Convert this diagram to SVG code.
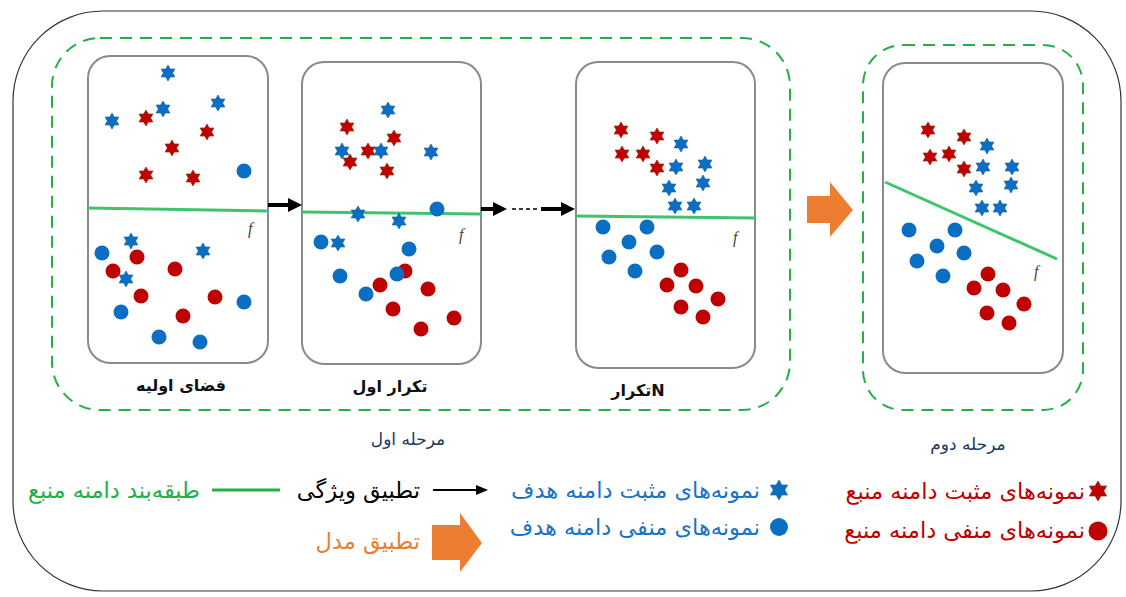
<svg xmlns="http://www.w3.org/2000/svg" xmlns:xlink="http://www.w3.org/1999/xlink" width="1126" height="597" viewBox="0 0 1126 597">
<style>
.bs{fill:#0a6fc2;stroke:#1d5a9c;stroke-width:0.6}
.rs{fill:#c00000;stroke:#93320f;stroke-width:0.7}
.bc{fill:#0a6fc2}
.rc{fill:#c00000}
.panel{fill:#fff;stroke:#8a8a8a;stroke-width:2}
.stage{fill:none;stroke:#22b04b;stroke-width:2;stroke-dasharray:12 8}
.cls{stroke:#3ec46d;stroke-width:3}
.f{font-family:"Liberation Serif",serif;font-style:italic;font-size:16px;fill:#444}
.lbl{font-family:"DejaVu Sans",sans-serif;font-weight:bold;font-size:16px;fill:#111;text-anchor:middle}
.stg{font-family:"DejaVu Sans",sans-serif;font-size:17px;fill:#203864;text-anchor:middle}
.leg{font-family:"DejaVu Sans",sans-serif;font-size:22.5px;direction:rtl;text-anchor:start}
.conn{stroke:#000;stroke-width:4;fill:none}
</style>
<defs>
<path id="hex" d="M0,-8L2.309,-4L6.928,-4L4.619,0L6.928,4L2.309,4L0,8L-2.309,4L-6.928,4L-4.619,0L-6.928,-4L-2.309,-4Z"/>
<path id="hexL" d="M0,-10L2.887,-5L8.66,-5L5.774,0L8.66,5L2.887,5L0,10L-2.887,5L-8.66,5L-5.774,0L-8.66,-5L-2.887,-5Z"/>
<marker id="ah" markerUnits="userSpaceOnUse" markerWidth="14" markerHeight="14" refX="2" refY="7" orient="auto">
<path d="M0,0L14,7L0,14Z" fill="#000"/>
</marker>
<marker id="ahs" markerUnits="userSpaceOnUse" markerWidth="12" markerHeight="10" refX="2" refY="5" orient="auto">
<path d="M0,0L12,5L0,10Z" fill="#000"/>
</marker>
</defs>
<rect width="1126" height="597" fill="#fff"/>
<g id="frame">
<rect x="13" y="11" width="1108" height="580" rx="90" fill="none" stroke="#333" stroke-width="1.2"/>
</g>
<g id="stage1">
<rect class="stage" x="52" y="38" width="738" height="372" rx="48"/>
<text class="stg" x="408" y="445">مرحله اول</text>
</g>
<g id="stage2">
<rect class="stage" x="863" y="45" width="220" height="365" rx="40"/>
<text class="stg" x="968" y="450">مرحله دوم</text>
</g>
<g id="panel1">
<rect class="panel" x="88" y="56" width="180" height="307" rx="22"/>
<line class="cls" x1="88" y1="208" x2="268" y2="211"/>
<text class="f" x="248" y="234">f</text>
<use href="#hex" class="bs" x="168" y="73"/>
<use href="#hex" class="bs" x="163" y="109"/>
<use href="#hex" class="bs" x="218" y="103"/>
<use href="#hex" class="bs" x="112" y="121"/>
<use href="#hex" class="rs" x="146" y="118"/>
<use href="#hex" class="rs" x="207" y="132"/>
<use href="#hex" class="rs" x="172" y="148"/>
<use href="#hex" class="rs" x="146" y="175"/>
<use href="#hex" class="rs" x="193" y="178"/>
<circle class="bc" cx="244" cy="171" r="7.5"/>
<circle class="rc" cx="137" cy="257" r="7.5"/>
<circle class="rc" cx="113" cy="271" r="7.5"/>
<circle class="rc" cx="175" cy="269" r="7.5"/>
<circle class="rc" cx="141" cy="296" r="7.5"/>
<circle class="rc" cx="215" cy="297" r="7.5"/>
<circle class="rc" cx="183" cy="316" r="7.5"/>
<circle class="bc" cx="102" cy="253" r="7.5"/>
<circle class="bc" cx="121" cy="312" r="7.5"/>
<circle class="bc" cx="244" cy="302" r="7.5"/>
<circle class="bc" cx="159" cy="337" r="7.5"/>
<circle class="bc" cx="200" cy="342" r="7.5"/>
<use href="#hex" class="bs" x="131" y="241"/>
<use href="#hex" class="bs" x="203" y="251"/>
<use href="#hex" class="bs" x="126" y="279"/>
<text class="lbl" x="181" y="391">فضای اولیه</text>
</g>
<g id="panel2">
<rect class="panel" x="302" y="62" width="179" height="302" rx="22"/>
<line class="cls" x1="302" y1="212" x2="481" y2="214"/>
<text class="f" x="459" y="240">f</text>
<use href="#hex" class="bs" x="388" y="110"/>
<use href="#hex" class="rs" x="347" y="127"/>
<use href="#hex" class="rs" x="394" y="138"/>
<use href="#hex" class="bs" x="342" y="151"/>
<use href="#hex" class="rs" x="368" y="151"/>
<use href="#hex" class="bs" x="381" y="151"/>
<use href="#hex" class="bs" x="431" y="152"/>
<use href="#hex" class="rs" x="350" y="162"/>
<use href="#hex" class="rs" x="387" y="171"/>
<circle class="bc" cx="437" cy="209" r="7.5"/>
<use href="#hex" class="bs" x="358" y="214"/>
<use href="#hex" class="bs" x="399" y="221"/>
<use href="#hex" class="bs" x="338" y="243"/>
<circle class="bc" cx="321" cy="242" r="7.5"/>
<circle class="bc" cx="409" cy="249" r="7.5"/>
<circle class="rc" cx="405" cy="271" r="7.5"/>
<circle class="bc" cx="397" cy="274" r="7.5"/>
<circle class="bc" cx="340" cy="276" r="7.5"/>
<circle class="rc" cx="380" cy="285" r="7.5"/>
<circle class="bc" cx="366" cy="294" r="7.5"/>
<circle class="rc" cx="428" cy="289" r="7.5"/>
<circle class="rc" cx="393" cy="309" r="7.5"/>
<circle class="rc" cx="454" cy="318" r="7.5"/>
<circle class="rc" cx="421" cy="329" r="7.5"/>
<text class="lbl" x="390" y="392">تکرار اول</text>
</g>
<g id="panel3">
<rect class="panel" x="576" y="62" width="179" height="306" rx="22"/>
<line class="cls" x1="576" y1="216" x2="755" y2="218"/>
<text class="f" x="733" y="243">f</text>
<use href="#hex" class="rs" x="621" y="130"/>
<use href="#hex" class="rs" x="657" y="136"/>
<use href="#hex" class="rs" x="622" y="154"/>
<use href="#hex" class="rs" x="643" y="154"/>
<use href="#hex" class="rs" x="657" y="168"/>
<use href="#hex" class="bs" x="681" y="144"/>
<use href="#hex" class="bs" x="676" y="167"/>
<use href="#hex" class="bs" x="705" y="164"/>
<use href="#hex" class="bs" x="669" y="188"/>
<use href="#hex" class="bs" x="703" y="183"/>
<use href="#hex" class="bs" x="675" y="206"/>
<use href="#hex" class="bs" x="694" y="206"/>
<circle class="bc" cx="603" cy="227" r="7.5"/>
<circle class="bc" cx="647" cy="227" r="7.5"/>
<circle class="bc" cx="629" cy="242" r="7.5"/>
<circle class="bc" cx="609" cy="257" r="7.5"/>
<circle class="bc" cx="657" cy="252" r="7.5"/>
<circle class="bc" cx="635" cy="271" r="7.5"/>
<circle class="rc" cx="681" cy="270" r="7.5"/>
<circle class="rc" cx="667" cy="285" r="7.5"/>
<circle class="rc" cx="696" cy="286" r="7.5"/>
<circle class="rc" cx="718" cy="299" r="7.5"/>
<circle class="rc" cx="681" cy="307" r="7.5"/>
<circle class="rc" cx="703" cy="317" r="7.5"/>
<text class="lbl" x="638" y="396">تکرارN</text>
</g>
<g id="panel4">
<rect class="panel" x="883" y="63" width="180" height="310" rx="22"/>
<line class="cls" x1="885" y1="182" x2="1057" y2="259"/>
<text class="f" x="1034" y="277">f</text>
<use href="#hex" class="rs" x="928" y="130"/>
<use href="#hex" class="rs" x="964" y="137"/>
<use href="#hex" class="rs" x="930" y="157"/>
<use href="#hex" class="rs" x="949" y="154"/>
<use href="#hex" class="rs" x="964" y="169"/>
<use href="#hex" class="bs" x="987" y="146"/>
<use href="#hex" class="bs" x="983" y="167"/>
<use href="#hex" class="bs" x="1012" y="167"/>
<use href="#hex" class="bs" x="976" y="188"/>
<use href="#hex" class="bs" x="1011" y="185"/>
<use href="#hex" class="bs" x="982" y="208"/>
<use href="#hex" class="bs" x="1000" y="208"/>
<circle class="bc" cx="909" cy="230" r="7.5"/>
<circle class="bc" cx="955" cy="230" r="7.5"/>
<circle class="bc" cx="937" cy="246" r="7.5"/>
<circle class="bc" cx="917" cy="261" r="7.5"/>
<circle class="bc" cx="964" cy="253" r="7.5"/>
<circle class="bc" cx="943" cy="276" r="7.5"/>
<circle class="rc" cx="988" cy="274" r="7.5"/>
<circle class="rc" cx="974" cy="288" r="7.5"/>
<circle class="rc" cx="1003" cy="290" r="7.5"/>
<circle class="rc" cx="1024" cy="304" r="7.5"/>
<circle class="rc" cx="987" cy="313" r="7.5"/>
<circle class="rc" cx="1009" cy="323" r="7.5"/>
</g>
<g id="connectors">
<line class="conn" x1="268" y1="205" x2="290" y2="205" marker-end="url(#ah)"/>
<line class="conn" x1="481" y1="209" x2="495" y2="209" marker-end="url(#ah)"/>
<line x1="512" y1="209" x2="538" y2="209" stroke="#000" stroke-width="1.5" stroke-dasharray="4 3"/>
<line class="conn" x1="541" y1="209" x2="563" y2="209" marker-end="url(#ah)"/>
<polygon id="model-transfer" points="807,196 830,196 830,182 853,210 830,237 830,223 807,223" fill="#ed7d31"/>
</g>
<g id="legend">
<g id="leg-classifier">
<text class="leg" x="200" y="498" fill="#22b04b">طبقه&#x200C;بند دامنه منبع</text>
<line x1="212" y1="490" x2="280" y2="490" stroke="#22b04b" stroke-width="3"/>
</g>
<g id="leg-feature">
<text class="leg" x="420" y="498" fill="#000">تطبیق ویژگی</text>
<line x1="433" y1="490" x2="478" y2="490" stroke="#000" stroke-width="2" marker-end="url(#ahs)"/>
</g>
<g id="leg-model">
<text class="leg" x="420" y="549" fill="#ed7d31">تطبیق مدل</text>
<polygon points="432,525 460,525 460,513 482,543 460,572 460,560 432,560" fill="#ed7d31"/>
</g>
<g id="leg-target-pos">
<text class="leg" x="760" y="498" fill="#1a73c8">نمونه&#x200C;های مثبت دامنه هدف</text>
<use href="#hexL" class="bs" x="779" y="490"/>
</g>
<g id="leg-target-neg">
<text class="leg" x="760" y="535" fill="#1a73c8">نمونه&#x200C;های منفی دامنه هدف</text>
<circle class="bc" cx="779" cy="527" r="9"/>
</g>
<g id="leg-source-pos">
<text class="leg" x="1085" y="499" fill="#c00000">نمونه&#x200C;های مثبت دامنه منبع</text>
<use href="#hexL" class="rs" x="1098" y="491"/>
</g>
<g id="leg-source-neg">
<text class="leg" x="1085" y="538" fill="#c00000">نمونه&#x200C;های منفی دامنه منبع</text>
<circle class="rc" cx="1098" cy="531" r="9.5"/>
</g>
</g>
</svg>
